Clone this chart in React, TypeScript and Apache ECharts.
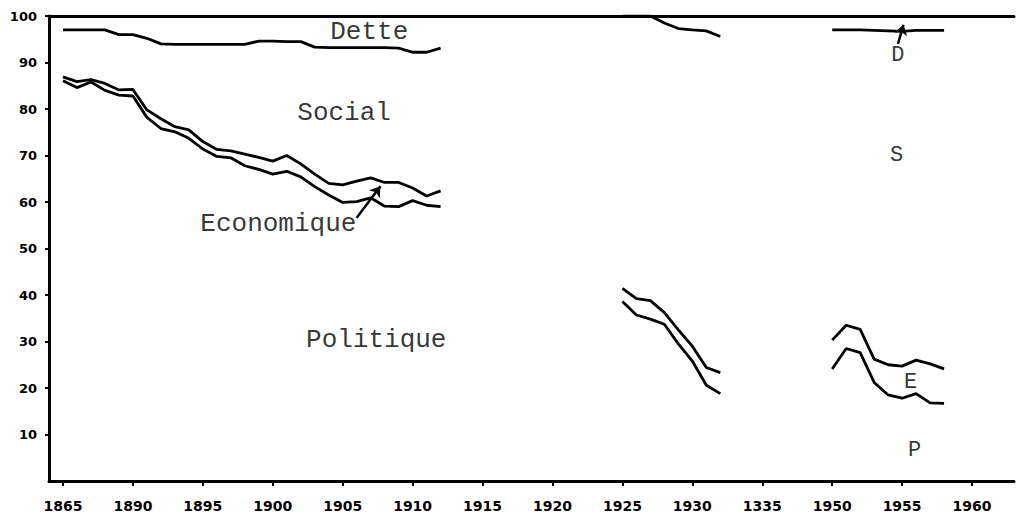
import React, { useEffect, useRef } from "react";
import * as echarts from "echarts";

// ---- Tick labels (as printed on the chart) ----
const tickYears = [1885, 1890, 1895, 1900, 1905, 1910, 1915, 1920, 1925, 1930, 1935, 1950, 1955, 1960];
const tickLabels = ["1865", "1890", "1895", "1900", "1905", "1910", "1915", "1920", "1925", "1930", "1335", "1950", "1955", "1960"];

// ---- Period A: 1885-1912 (cumulative boundaries, %) ----
const yearsA = [1885, 1886, 1887, 1888, 1889, 1890, 1891, 1892, 1893, 1894, 1895, 1896, 1897, 1898, 1899, 1900, 1901, 1902, 1903, 1904, 1905, 1906, 1907, 1908, 1909, 1910, 1911, 1912];
const politiqueA = [86.1, 84.6, 85.8, 84.0, 83.0, 82.8, 78.2, 75.8, 75.1, 73.7, 71.4, 69.8, 69.5, 67.8, 67.0, 66.0, 66.6, 65.4, 63.3, 61.5, 59.9, 60.1, 60.9, 59.1, 59.0, 60.3, 59.3, 59.0];
const economiqueA = [86.9, 85.9, 86.3, 85.5, 84.1, 84.2, 79.8, 77.9, 76.2, 75.5, 73.0, 71.3, 71.0, 70.3, 69.6, 68.8, 70.0, 68.2, 66.0, 64.0, 63.7, 64.5, 65.2, 64.2, 64.2, 63.0, 61.3, 62.4];
const socialA = [97.0, 97.0, 97.0, 97.0, 96.0, 96.0, 95.2, 94.0, 93.9, 93.9, 93.9, 93.9, 93.9, 93.9, 94.6, 94.6, 94.5, 94.5, 93.3, 93.2, 93.2, 93.2, 93.2, 93.2, 93.1, 92.2, 92.2, 93.1];

// ---- Period B: 1925-1932 ----
const yearsB = [1925, 1926, 1927, 1928, 1929, 1930, 1931, 1932];
const politiqueB = [38.6, 35.7, 34.8, 33.7, 29.5, 25.8, 20.6, 18.8];
const economiqueB = [41.4, 39.2, 38.8, 36.2, 32.5, 29.0, 24.4, 23.3];
const socialB = [100, 100, 100, 98.5, 97.3, 97.0, 96.8, 95.6];

// ---- Period C: 1950-1958 ----
const yearsC = [1950, 1951, 1952, 1953, 1954, 1955, 1956, 1957, 1958];
const politiqueC = [24.1, 28.5, 27.6, 21.2, 18.5, 17.8, 18.8, 16.8, 16.7];
const economiqueC = [30.3, 33.5, 32.6, 26.2, 25.0, 24.7, 26.0, 25.2, 24.1];
const socialC = [97.0, 97.0, 97.0, 96.9, 96.8, 96.7, 96.9, 96.9, 96.9];

// ---- Annotations (year, value) ----
const annoTexts = ["Dette", "Social", "Economique", "Politique", "D", "S", "E", "P"];
const annoYears = [1906.9, 1905.1, 1900.4, 1907.4, 1954.7, 1954.6, 1955.6, 1955.9];
const annoValues = [96.6, 79.1, 55.3, 30.3, 91.6, 70.1, 21.1, 6.5];
const annoSizes = [26, 26, 26, 26, 22, 22, 22, 22];

// ---- Arrows: [fromYear, fromValue, toYear, toValue] ----
const arrowEco = [1906.0, 56.6, 1907.7, 63.4];
const arrowDette = [1954.7, 94.0, 1955.1, 98.1];

// the axis skips 1935-1945
const pos = (year: number) => (year < 1942 ? year - 1885 : year - 1895);

export default function App() {
  const ref = useRef<HTMLDivElement>(null);

  useEffect(() => {
    if (!ref.current) return;
    const chart = echarts.init(ref.current, null, { renderer: "svg" });

    const mkLine = (name: string, years: number[], vals: number[]) => ({
      name,
      type: "line",
      data: years.map((y, i) => [pos(y), vals[i]]),
      symbol: "none",
      showSymbol: false,
      lineStyle: { color: "#000", width: 2.8 },
      itemStyle: { color: "#000" },
      silent: true,
      z: 3,
    });

    const tickPos = tickYears.map(pos);
    const labelFor = (v: number) => {
      const i = tickPos.findIndex((p) => Math.abs(p - v) < 1e-6);
      return i >= 0 ? tickLabels[i] : "";
    };

    const option: any = {
      animation: false,
      backgroundColor: "#fff",
      grid: { left: 49, right: 2, top: 16, bottom: 40, containLabel: false },
      xAxis: [
        {
          type: "value",
          min: -1,
          max: 68,
          position: "bottom",
          splitLine: { show: false },
          axisLine: { show: true, onZero: false, lineStyle: { color: "#000", width: 3 } },
          axisTick: {
            show: true,
            customValues: tickPos,
            length: 5,
            inside: false,
            lineStyle: { color: "#000", width: 2 },
          },
          axisLabel: {
            show: true,
            customValues: tickPos,
            formatter: (v: number) => labelFor(v),
            color: "#000",
            fontFamily: "DejaVu Sans",
            fontWeight: "bold",
            fontSize: 14,
            margin: 18,
          },
        },
        {
          type: "value",
          min: -1,
          max: 68,
          position: "top",
          splitLine: { show: false },
          axisLine: { show: true, onZero: false, lineStyle: { color: "#000", width: 3 } },
          axisTick: { show: false },
          axisLabel: { show: false },
        },
      ],
      yAxis: {
        type: "value",
        min: 0,
        max: 100,
        interval: 10,
        splitLine: { show: false },
        axisLine: { show: true, onZero: false, lineStyle: { color: "#000", width: 3 } },
        axisTick: { show: true, length: 4, lineStyle: { color: "#000", width: 2 } },
        axisLabel: {
          showMinLabel: false,
          color: "#000",
          fontFamily: "DejaVu Sans",
          fontWeight: "bold",
          fontSize: 13,
          margin: 12,
        },
      },
      series: [
        mkLine("Politique", yearsA, politiqueA),
        mkLine("Economique", yearsA, economiqueA),
        mkLine("Social", yearsA, socialA),
        mkLine("Politique", yearsB, politiqueB),
        mkLine("Economique", yearsB, economiqueB),
        mkLine("Social", yearsB, socialB),
        mkLine("Politique", yearsC, politiqueC),
        mkLine("Economique", yearsC, economiqueC),
        mkLine("Social", yearsC, socialC),
        {
          name: "annotations",
          type: "scatter",
          silent: true,
          symbolSize: 1,
          itemStyle: { color: "rgba(0,0,0,0)" },
          data: annoTexts.map((t, i) => ({
            name: t,
            value: [pos(annoYears[i]), annoValues[i]],
            label: {
              show: true,
              position: "inside",
              formatter: "{b}",
              color: "#000",
              fontFamily: "Liberation Mono",
              fontSize: annoSizes[i],
            },
          })),
          markLine: {
            silent: true,
            animation: false,
            symbol: ["none", "arrow"],
            symbolSize: 10,
            label: { show: false },
            lineStyle: { color: "#000", width: 2.5, type: "solid" },
            data: [arrowEco, arrowDette].map((a) => [
              { coord: [pos(a[0]), a[1]] },
              { coord: [pos(a[2]), a[3]] },
            ]),
          },
          z: 5,
        },
      ],
    };

    chart.setOption(option);
    return () => chart.dispose();
  }, []);

  return (
    <div
      ref={ref}
      style={{ position: "absolute", left: 0, top: 0, width: 1016, height: 521, background: "#fff" }}
    />
  );
}
